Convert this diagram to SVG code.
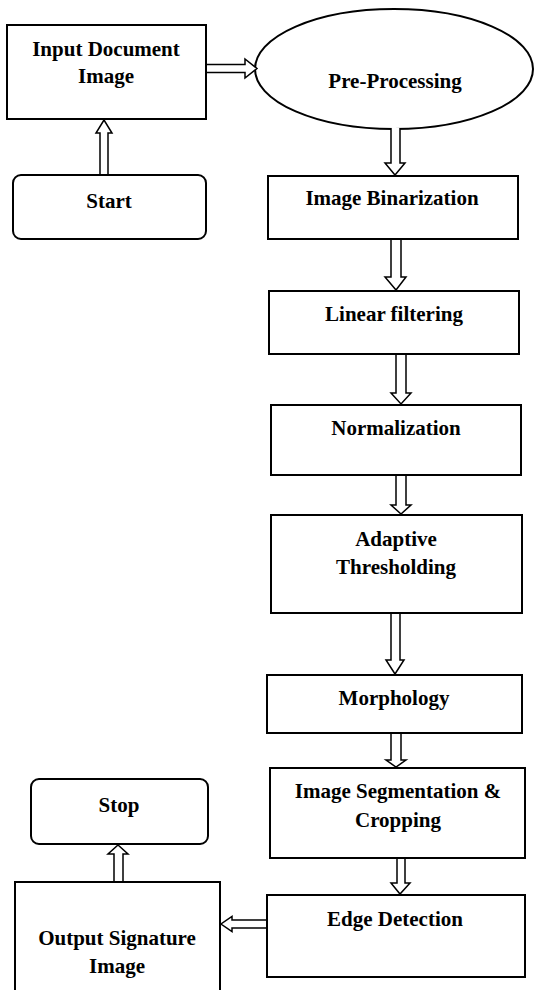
<svg xmlns="http://www.w3.org/2000/svg" width="534" height="990" viewBox="0 0 534 990">
<style>
.box{fill:#fff;stroke:#000;stroke-width:2}
.lbl{font-family:"Liberation Serif","Times New Roman",serif;font-weight:bold;font-size:21px;fill:#000;text-anchor:middle}
.arr{fill:#fff;stroke:#000;stroke-width:1.5;stroke-linejoin:miter}
</style>
<rect x="0" y="0" width="534" height="990" fill="#fff"/>
<g id="n_input"><rect class="box" x="7" y="25" width="199" height="94"/><text class="lbl" x="106" y="56">Input Document</text><text class="lbl" x="106" y="83">Image</text></g>
<g id="n_pre"><ellipse class="box" cx="394" cy="69" rx="139" ry="60"/><text class="lbl" x="395" y="88">Pre-Processing</text></g>
<g id="n_start"><rect class="box" x="13" y="175" width="193" height="64" rx="8"/><text class="lbl" x="109" y="208">Start</text></g>
<g id="n_bin"><rect class="box" x="268" y="176" width="250" height="63"/><text class="lbl" x="392" y="205">Image Binarization</text></g>
<g id="n_lin"><rect class="box" x="269" y="291" width="250" height="63"/><text class="lbl" x="394" y="321">Linear filtering</text></g>
<g id="n_norm"><rect class="box" x="271" y="405" width="250" height="70"/><text class="lbl" x="396" y="435">Normalization</text></g>
<g id="n_adapt"><rect class="box" x="271" y="515" width="251" height="98"/><text class="lbl" x="396" y="546">Adaptive</text><text class="lbl" x="396" y="574">Thresholding</text></g>
<g id="n_morph"><rect class="box" x="267" y="675" width="255" height="58"/><text class="lbl" x="394" y="705">Morphology</text></g>
<g id="n_seg"><rect class="box" x="270" y="768" width="255" height="90"/><text class="lbl" x="398" y="798">Image Segmentation &amp;</text><text class="lbl" x="398" y="827">Cropping</text></g>
<g id="n_edge"><rect class="box" x="267" y="895" width="258" height="82"/><text class="lbl" x="395" y="926">Edge Detection</text></g>
<g id="n_stop"><rect class="box" x="31" y="779" width="177" height="65" rx="8"/><text class="lbl" x="119" y="812">Stop</text></g>
<g id="n_out"><rect class="box" x="15" y="882" width="205" height="120"/><text class="lbl" x="117" y="945">Output Signature</text><text class="lbl" x="117" y="973">Image</text></g>
<g id="connectors">
<path class="arr" d="M207 64.5 H245 V59 L257 68.5 L245 78 V72.5 H207"/>
<path class="arr" d="M100 174 V133 H96 L104 120 L112 133 H108 V174"/>
<path class="arr" d="M391 128 V163 H385 L395 175 L405 163 H400 V128"/>
<path class="arr" d="M391 240 V277 H385 L396 290 L406 277 H401 V240"/>
<path class="arr" d="M396 355 V393 H391 L401 404 L411 393 H406 V355"/>
<path class="arr" d="M396 476 V505 H391 L401 514 L411 505 H406 V476"/>
<path class="arr" d="M391 614 V660 H386 L395 674 L404 660 H400 V614"/>
<path class="arr" d="M391 734 V760 H386 L396 767 L406 760 H401 V734"/>
<path class="arr" d="M397 859 V883 H391 L400 894 L410 883 H405 V859"/>
<path class="arr" d="M114 881 V854 H108 L118 845 L128 854 H123 V881"/>
<path class="arr" d="M266 920 H232 V916.5 L221 924 L232 931.5 V928 H266"/>
</g>
</svg>
